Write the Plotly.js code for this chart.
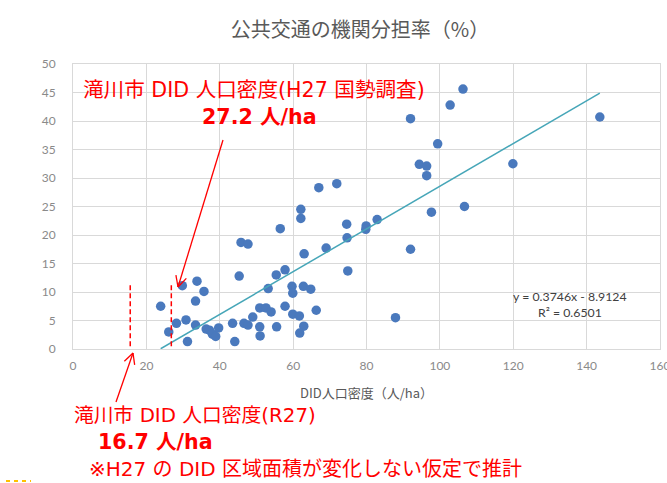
<!DOCTYPE html>
<html>
<head>
<meta charset="utf-8">
<script src="https://cdn.plot.ly/plotly-3.0.1.min.js"></script>
<style>html,body{margin:0;padding:0;background:#fff;}#chart{width:667px;height:483px;}</style>
</head>
<body>
<div id="chart"></div>
<script>
// DID population density (人/ha)
const densityX = [23.9,26.1,28.2,29.8,30.8,31.2,33.8,33.4,35.7,33.4,36.3,37.2,38.0,38.9,39.7,43.5,44.1,45.3,46.6,47.7,49.0,50.9,52.6,54.0,50.9,51.0,53.2,55.4,55.5,
  67.0,71.9,62.1,62.1,56.5,74.6,74.7,45.8,47.7,63.0,69.0,74.9,57.8,59.7,59.9,62.8,64.8,57.8,59.9,61.7,66.3,62.9,61.8,
  94.4,96.4,96.4,106.7,97.7,79.9,79.8,82.9,92.0,87.9,106.3,102.8,99.4,143.6,119.9,92.0];
// public transport modal share (%)
const shareY = [7.5,3.0,4.5,11.1,5.1,1.3,11.9,8.4,10.1,4.2,3.5,3.3,2.6,2.2,3.7,4.5,1.3,12.8,4.5,4.2,5.6,7.2,7.2,6.5,3.9,2.3,10.6,13.0,3.9,
  28.3,29.0,24.5,22.9,21.1,21.9,19.5,18.7,18.4,16.7,17.7,13.7,13.9,11.0,9.8,11.0,10.5,7.5,6.1,5.8,6.8,4.0,2.8,
  32.4,32.1,30.4,25.0,24.0,21.6,21.0,22.7,17.5,5.5,45.6,42.8,36.0,40.7,32.5,40.4];
const trendSlope = [0.3746];
const trendIntercept = [-8.9124];
const rSquared = ["0.6501"];
const xTicks = [0,20,40,60,80,100,120,140,160];
const yTicks = [0,5,10,15,20,25,30,35,40,45,50];
const markerDensities = [26.8, 15.6]; // red dashed markers (drawn positions)
const markerTop = [11.5];

const xmin = Math.min(...densityX), xmax = Math.max(...densityX);
const trendX = [xmin, xmax];
const trendY = trendX.map(v => trendSlope[0]*v + trendIntercept[0]);

const L = 73, R = 7, T = 64, B = 134, W = 667, H = 483;
const pw = W - L - R, ph = H - T - B;
const px2x = px => (px - L) / pw;
const py2y = py => (H - B - py) / ph;

const red = '#ff0000';
const cjk = '"Noto Sans CJK JP", "Noto Sans", sans-serif';
const redFont = '"DejaVu Sans", "Noto Sans CJK JP", sans-serif';

function arrowShapes(tail, tip) {
  const dx = tail[0]-tip[0], dy = tail[1]-tip[1];
  const len = Math.hypot(dx, dy), ux = dx/len, uy = dy/len;
  const a = 27*Math.PI/180, arm = 12;
  const shapes = [{type:'line', xref:'paper', yref:'paper', x0:px2x(tail[0]), y0:py2y(tail[1]), x1:px2x(tip[0]), y1:py2y(tip[1]), line:{color:red, width:1.3}}];
  [a, -a].forEach(t => {
    const rx = ux*Math.cos(t) - uy*Math.sin(t), ry = ux*Math.sin(t) + uy*Math.cos(t);
    shapes.push({type:'line', xref:'paper', yref:'paper', x0:px2x(tip[0]), y0:py2y(tip[1]), x1:px2x(tip[0]+arm*rx), y1:py2y(tip[1]+arm*ry), line:{color:red, width:1.3}});
  });
  return shapes;
}

const traces = [
  {x: densityX, y: shareY, type:'scatter', mode:'markers', marker:{size:9.5, color:'#4a79bd'}, hoverinfo:'x+y', cliponaxis:false},
  {x: trendX, y: trendY, type:'scatter', mode:'lines', line:{color:'#46a6b8', width:1.5}, hoverinfo:'skip'}
];

const shapes = [];
markerDensities.forEach(d => shapes.push({type:'line', xref:'x', yref:'y', x0:d, x1:d, y0:0.5, y1:markerTop[0], line:{color:red, width:1.5, dash:'5px,3px'}}));
shapes.push(...arrowShapes([223,140],[178,287]));
shapes.push(...arrowShapes([116,402],[133,353]));
shapes.push({type:'line', xref:'paper', yref:'paper', x0:px2x(6), x1:px2x(31), y0:py2y(481), y1:py2y(481), line:{color:'#ffc000', width:2, dash:'4px,4px'}});

const ann = (text, px, py, anchor, size, bold, color, font) => ({
  text: bold ? '<b>'+text+'</b>' : text, xref:'paper', yref:'paper', x:px2x(px), y:py2y(py),
  xanchor:anchor, yanchor:'middle', showarrow:false,
  font:{family: font || redFont, size:size, color:color || red}
});

const annotations = [
  ann('滝川市 DID 人口密度(H27 国勢調査)', 81, 90, 'left', 20.6),
  ann('27.2 人/ha', 259, 117, 'center', 20.6, true),
  ann('滝川市 DID 人口密度(R27)', 72, 415, 'left', 19.8),
  ann('16.7 人/ha', 155, 442, 'center', 20.6, true),
  ann('※H27 の DID 区域面積が変化しない仮定で推計', 87, 469, 'left', 20),
  ann('y = ' + trendSlope[0] + 'x - ' + Math.abs(trendIntercept[0]), 570, 296, 'center', 12.3, false, '#404040', 'Lato, "Liberation Sans", sans-serif'),
  ann('R² = ' + rSquared[0], 570, 312, 'center', 12.3, false, '#404040', 'Lato, "Liberation Sans", sans-serif')
];

const layout = {
  width: W, height: H,
  margin: {l:L, r:R, t:T, b:B, pad:0},
  paper_bgcolor:'#ffffff', plot_bgcolor:'#ffffff',
  showlegend:false,
  font:{family: cjk, color:'#595959'},
  title:{text:'公共交通の機関分担率（%）', x:360/W, xref:'container', xanchor:'center', y:1-30/H, yref:'container', yanchor:'middle',
    font:{family:cjk, size:20, color:'#595959'}},
  xaxis:{range:[0,160], tickvals:xTicks, ticktext:xTicks.map(String), showgrid:true, gridcolor:'#d9d9d9', gridwidth:1,
    zeroline:false, showline:true, linecolor:'#d9d9d9', mirror:true, ticks:'', ticklabelstandoff:6, ticklabeloverflow:'allow',
    tickfont:{family:'Lato, "Liberation Sans", sans-serif', size:12, color:'#8a8a8a'},
    title:{text:'DID人口密度（人/ha）', standoff:16, font:{family:cjk, size:13, color:'#595959'}}, automargin:false, fixedrange:true},
  yaxis:{range:[0,50], tickvals:yTicks, ticktext:yTicks.map(String), showgrid:true, gridcolor:'#d9d9d9', gridwidth:1,
    zeroline:false, showline:true, linecolor:'#d9d9d9', mirror:true, ticks:'', ticklabelstandoff:14,
    tickfont:{family:'Lato, "Liberation Sans", sans-serif', size:12, color:'#8a8a8a'}, automargin:false, fixedrange:true},
  shapes: shapes,
  annotations: annotations
};

Plotly.newPlot('chart', traces, layout, {staticPlot:true, displayModeBar:false});
</script>
</body>
</html>
